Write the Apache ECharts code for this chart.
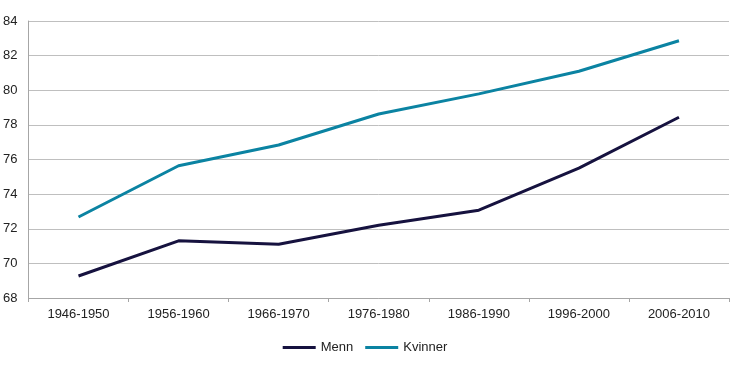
<!DOCTYPE html>
<html><head><meta charset="utf-8">
<script src="https://cdn.jsdelivr.net/npm/echarts@6/dist/echarts.min.js"></script>
<style>html,body{margin:0;padding:0;background:#fff}#c{width:730px;height:370px}</style>
</head><body><div id="c"></div>
<script>
var categories = ['1946-1950','1956-1960','1966-1970','1976-1980','1986-1990','1996-2000','2006-2010'];
var menn = [69.27, 71.3, 71.1, 72.2, 73.07, 75.5, 78.44];
var kvinner = [72.68, 75.64, 76.84, 78.63, 79.79, 81.1, 82.86];
var yTicks = {min: 68, max: 84, interval: 2};

var chart = echarts.init(document.getElementById('c'));
chart.setOption({
  animation: false,
  textStyle: {fontFamily: 'Liberation Sans, Arial, sans-serif'},
  grid: {left: 26, right: 1, top: 21, bottom: 72, containLabel: false},
  legend: {
    bottom: 11, left: 'center',
    icon: 'rect', itemWidth: 33, itemHeight: 3, itemGap: 12,
    textStyle: {fontSize: 13, color: '#222'},
    data: ['Menn', 'Kvinner']
  },
  xAxis: {
    type: 'category', data: categories, boundaryGap: true,
    axisLine: {lineStyle: {color: '#a6a6a6', width: 1}},
    axisTick: {show: true, length: 4, lineStyle: {color: '#a6a6a6'}},
    axisLabel: {fontSize: 13, color: '#222', margin: 10}
  },
  yAxis: {
    type: 'value', min: yTicks.min, max: yTicks.max, interval: yTicks.interval,
    axisLine: {show: true, lineStyle: {color: '#a6a6a6'}},
    axisTick: {show: false},
    axisLabel: {fontSize: 13, color: '#222', margin: 11},
    splitLine: {lineStyle: {color: '#bfbfbf', width: 1}}
  },
  series: [
    {name: 'Menn', type: 'line', data: menn, symbol: 'none',
     lineStyle: {color: '#16123f', width: 3}, itemStyle: {color: '#16123f'}},
    {name: 'Kvinner', type: 'line', data: kvinner, symbol: 'none',
     lineStyle: {color: '#0b83a2', width: 3}, itemStyle: {color: '#0b83a2'}}
  ]
});
</script></body></html>
